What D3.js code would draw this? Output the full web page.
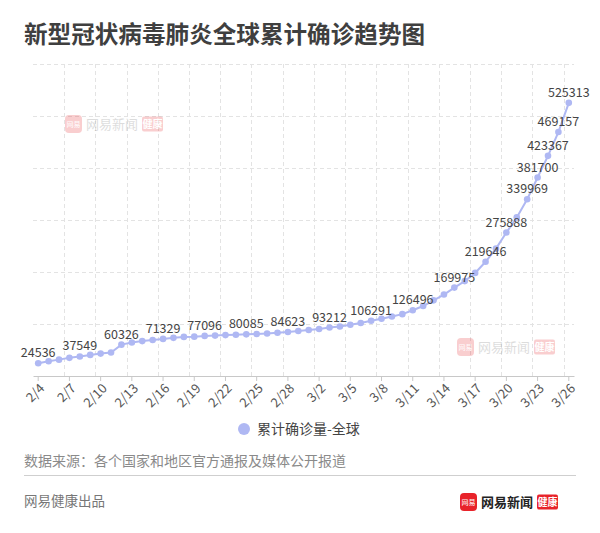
<!DOCTYPE html>
<html>
<head>
<meta charset="utf-8">
<script src="https://cdn.jsdelivr.net/npm/d3@7"></script>
<style>
html,body{margin:0;padding:0;background:#fff;}
svg{display:block;font-family:"Noto Sans CJK SC","Noto Sans",sans-serif;}
</style>
</head>
<body>
<svg id="chart" width="600" height="533"></svg>
<script>
const dates = ["2/4","2/5","2/6","2/7","2/8","2/9","2/10","2/11","2/12","2/13","2/14","2/15","2/16","2/17","2/18","2/19","2/20","2/21","2/22","2/23","2/24","2/25","2/26","2/27","2/28","2/29","3/1","3/2","3/3","3/4","3/5","3/6","3/7","3/8","3/9","3/10","3/11","3/12","3/13","3/14","3/15","3/16","3/17","3/18","3/19","3/20","3/21","3/22","3/23","3/24","3/25","3/26"];
const confirmed = [24536,28276,31481,34886,37549,40553,43099,45134,60326,64438,67100,69197,71329,73332,75184,75700,77096,77673,78651,79205,80085,80828,81820,83112,84623,86604,88585,90443,93212,95314,98425,102050,106291,109991,114381,118948,126496,134576,145483,156653,169975,182490,198238,219646,244933,275888,305036,339969,381700,423367,469157,525313];
const labeledDates = ["2/4","2/8","2/12","2/16","2/20","2/24","2/28","3/3","3/7","3/11","3/15","3/18","3/20","3/22","3/23","3/24","3/25","3/26"];
const tickDates = ["2/4","2/7","2/10","2/13","2/16","2/19","2/22","2/25","2/28","3/2","3/5","3/8","3/11","3/14","3/17","3/20","3/23","3/26"];
const yTicks = [100000,200000,300000,400000,500000,600000];
const seriesName = "累计确诊量-全球";
const title = "新型冠状病毒肺炎全球累计确诊趋势图";
const source = "数据来源：各个国家和地区官方通报及媒体公开报道";
const credit = "网易健康出品";

(function(){
const svg = d3.select("#chart");
const color = "#afb8f3";
const pLeft = 33, pRight = 574, pTop = 64, pBottom = 376;

const x = d3.scaleBand().domain(dates).range([pLeft, pRight]);
const bw = x.bandwidth();
const cx = d => x(d) + bw / 2;
const y = d3.scaleLinear().domain([0, 600000]).range([pBottom, pTop]);

svg.append("text").attr("x", 24).attr("y", 43)
  .attr("font-size", 23.6).attr("font-weight", "bold").attr("fill", "#3f3f3f")
  .text(title);

svg.append("g").selectAll("line").data(yTicks).join("line")
  .attr("x1", pLeft).attr("x2", pRight)
  .attr("y1", d => Math.round(y(d)) + 0.5).attr("y2", d => Math.round(y(d)) + 0.5)
  .attr("stroke", "#e3e3e3").attr("stroke-dasharray", "4,3");

const vGrid = tickDates.slice(1);
svg.append("g").selectAll("line").data(vGrid).join("line")
  .attr("x1", d => Math.round(x(d)) + 0.5).attr("x2", d => Math.round(x(d)) + 0.5)
  .attr("y1", pTop).attr("y2", pBottom)
  .attr("stroke", "#e3e3e3").attr("stroke-dasharray", "4,3");

function logo(g, x0, y0, faint) {
  const wg = g.append("g").attr("transform", `translate(${x0},${y0})`).attr("opacity", faint ? 0.22 : 1);
  wg.append("rect").attr("x", 0).attr("y", -9).attr("width", 17).attr("height", 18).attr("rx", 4).attr("fill", "#e8232a");
  wg.append("text").attr("x", 8.5).attr("y", 3).attr("text-anchor", "middle").attr("font-size", 7).attr("fill", "#fff").text("网易");
  wg.append("text").attr("x", 21).attr("y", 5).attr("font-size", 13).attr("font-weight", faint ? "normal" : "bold").attr("fill", faint ? "#666" : "#222").text("网易新闻");
  wg.append("rect").attr("x", 77).attr("y", -7.5).attr("width", 21).attr("height", 15).attr("rx", 2).attr("fill", "#e8232a");
  wg.append("text").attr("x", 87.5).attr("y", 4).attr("text-anchor", "middle").attr("font-size", 10).attr("font-weight", "bold").attr("fill", "#fff").text("健康");
}
logo(svg, 65, 124, true);
logo(svg, 457, 347, true);

const xAxis = d3.axisBottom(x).tickValues(tickDates).tickSize(5).tickSizeOuter(0).tickFormat(d => d);
const ax = svg.append("g").attr("transform", `translate(0,${pBottom})`).call(xAxis);
ax.select(".domain").attr("stroke", "#c8c8c8");
ax.selectAll(".tick line").attr("stroke", "#c8c8c8");
ax.selectAll(".tick text")
  .attr("font-size", 13).attr("fill", "#555").attr("font-family", "'Noto Sans CJK SC',sans-serif")
  .attr("text-anchor", "end").attr("dy", "0.35em").attr("y", 0)
  .attr("transform", "translate(4,10) rotate(-45)");

const line = d3.line().x((d, i) => cx(dates[i])).y(d => y(d));
svg.append("path").datum(confirmed).attr("d", line)
  .attr("fill", "none").attr("stroke", color).attr("stroke-width", 2);
svg.append("g").selectAll("circle").data(confirmed).join("circle")
  .attr("cx", (d, i) => cx(dates[i])).attr("cy", d => y(d)).attr("r", 3.3).attr("fill", color);

svg.append("g").selectAll("text").data(labeledDates).join("text")
  .attr("x", d => cx(d)).attr("y", d => y(confirmed[dates.indexOf(d)]) - 6)
  .attr("text-anchor", "middle").attr("font-size", 12.5).attr("fill", "#444")
  .text(d => confirmed[dates.indexOf(d)]);

svg.append("circle").attr("cx", 244).attr("cy", 429).attr("r", 6).attr("fill", color);
svg.append("text").attr("x", 257).attr("y", 434).attr("font-size", 14).attr("fill", "#444").text(seriesName);

svg.append("text").attr("x", 24).attr("y", 466).attr("font-size", 14).attr("fill", "#8a8a8a").text(source);
svg.append("line").attr("x1", 24).attr("x2", 576).attr("y1", 475.5).attr("y2", 475.5).attr("stroke", "#cfcfcf");
svg.append("text").attr("x", 24).attr("y", 506).attr("font-size", 13.5).attr("fill", "#777").text(credit);
logo(svg, 460, 502, false);
})();
</script>
</body>
</html>
